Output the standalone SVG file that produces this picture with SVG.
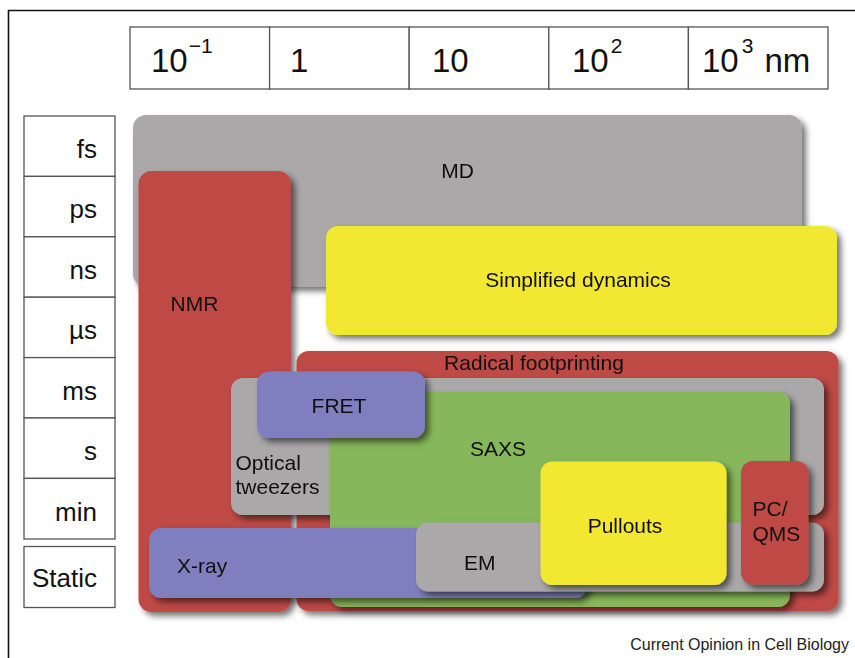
<svg xmlns="http://www.w3.org/2000/svg" width="855" height="658" viewBox="0 0 855 658">
<defs>
<style>
.cell{fill:#fff;stroke:#555;stroke-width:1.3}
.hdr{font-family:"Liberation Sans",Arial,sans-serif;font-size:33px;fill:#111}
.sup{font-size:21px}
.row{font-family:"Liberation Sans",Arial,sans-serif;font-size:26px;fill:#111;text-anchor:end}
.lbl{font-family:"Liberation Sans",Arial,sans-serif;font-size:21px;fill:#111}
.mid{text-anchor:middle}
.box{filter:url(#sh)}
.gray{fill:#aaa8a9}
.red{fill:#bf4a44}
.yel{fill:#f2e832}
.grn{fill:#86b75a}
.blu{fill:#7f7fc0}
</style>
<filter id="sh" x="-10%" y="-10%" width="130%" height="130%">
<feDropShadow dx="4" dy="4" stdDeviation="3" flood-color="#000" flood-opacity="0.55"/>
</filter>
</defs>
<rect width="855" height="658" fill="#fff"/>
<path d="M8.5 658 V10.5 H855" fill="none" stroke="#111" stroke-width="1.6"/>

<g id="header">
<rect class="cell" x="130" y="27" width="139.6" height="62"/>
<rect class="cell" x="269.6" y="27" width="139.6" height="62"/>
<rect class="cell" x="409.2" y="27" width="139.6" height="62"/>
<rect class="cell" x="548.8" y="27" width="139.6" height="62"/>
<rect class="cell" x="688.4" y="27" width="139.6" height="62"/>
<text class="hdr" x="151" y="72">10<tspan class="sup" dx="1" dy="-19">−1</tspan></text>
<text class="hdr" x="290" y="72">1</text>
<text class="hdr" x="432" y="72">10</text>
<text class="hdr" x="572" y="72">10<tspan class="sup" dx="2" dy="-19">2</tspan></text>
<text class="hdr" x="702" y="72">10<tspan class="sup" dx="3" dy="-19">3</tspan><tspan dy="19" dx="11">nm</tspan></text>
</g>

<g id="rows">
<rect class="cell" x="24" y="116" width="91" height="60.4"/>
<rect class="cell" x="24" y="176.4" width="91" height="60.4"/>
<rect class="cell" x="24" y="236.8" width="91" height="60.4"/>
<rect class="cell" x="24" y="297.2" width="91" height="60.4"/>
<rect class="cell" x="24" y="357.6" width="91" height="60.4"/>
<rect class="cell" x="24" y="418" width="91" height="60.4"/>
<rect class="cell" x="24" y="478.4" width="91" height="60.6"/>
<rect class="cell" x="24" y="546.5" width="91" height="61"/>
<text class="row" x="97" y="158">fs</text>
<text class="row" x="97" y="218">ps</text>
<text class="row" x="97" y="279">ns</text>
<text class="row" x="97" y="339">µs</text>
<text class="row" x="97" y="400">ms</text>
<text class="row" x="97" y="460">s</text>
<text class="row" x="97" y="521">min</text>
<text class="row" x="97" y="587">Static</text>
</g>

<g id="MD" class="box">
<rect class="gray" x="133" y="115" width="669" height="172" rx="13"/>
<text class="lbl mid" x="457.5" y="178">MD</text>
</g>
<g id="NMR" class="box">
<rect class="red" x="138.5" y="171" width="152.5" height="441" rx="13"/>
<text class="lbl" x="170.5" y="311">NMR</text>
</g>
<g id="simplified" class="box">
<rect class="yel" x="326" y="226" width="511" height="109" rx="12"/>
<text class="lbl mid" x="578" y="287">Simplified dynamics</text>
</g>
<g id="radical" class="box">
<rect class="red" x="296.5" y="351" width="542" height="260" rx="12"/>
<text class="lbl mid" x="534" y="370">Radical footprinting</text>
</g>
<g id="optical" class="box">
<rect class="gray" x="231" y="378" width="593" height="137" rx="12"/>
<text class="lbl" x="235.5" y="469.5">Optical</text>
<text class="lbl" x="235.5" y="494">tweezers</text>
</g>
<g id="SAXS" class="box">
<rect class="grn" x="330" y="392" width="460" height="215" rx="12"/>
<text class="lbl" x="470" y="456">SAXS</text>
</g>
<g id="FRET" class="box">
<rect class="blu" x="257" y="371.5" width="168" height="66.5" rx="12"/>
<text class="lbl mid" x="339" y="412.5">FRET</text>
</g>
<g id="Xray" class="box">
<rect class="blu" x="149" y="528" width="438" height="70" rx="12"/>
<text class="lbl" x="177" y="572.5">X-ray</text>
</g>
<g id="EM" class="box">
<rect class="gray" x="416" y="522.5" width="408" height="69" rx="12"/>
<text class="lbl" x="464" y="569.5">EM</text>
</g>
<g id="pullouts" class="box">
<rect class="yel" x="540.5" y="461.5" width="186" height="123.5" rx="12"/>
<text class="lbl mid" x="625" y="532.5">Pullouts</text>
</g>
<g id="PCQMS" class="box">
<rect class="red" x="741" y="461" width="67.5" height="123.5" rx="12"/>
<text class="lbl" x="752.5" y="516">PC/</text>
<text class="lbl" x="752.5" y="541">QMS</text>
</g>
<g id="connectors"></g>
<text x="849" y="650" font-family="'Liberation Sans',Arial,sans-serif" font-size="16" fill="#222" text-anchor="end">Current Opinion in Cell Biology</text>
</svg>
